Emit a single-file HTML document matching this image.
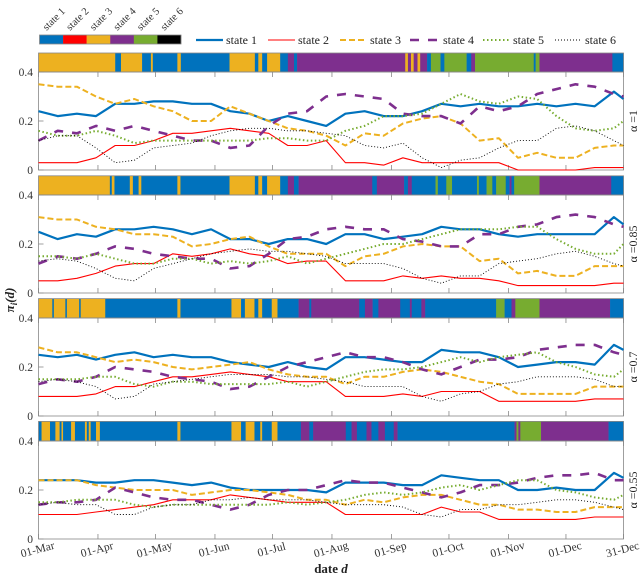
<!DOCTYPE html>
<html><head><meta charset="utf-8"><style>
html,body{margin:0;padding:0;background:#fff;}
svg{display:block;font-family:"Liberation Serif",serif;}
</style></head><body>
<svg id="chart" width="640" height="578" viewBox="0 0 640 578" xmlns="http://www.w3.org/2000/svg"></svg>
<script>
const days=[0,10,20,30,40,50,60,70,80,90,100,110,120,130,140,150,160,170,180,190,200,210,220,230,240,250,260,270,280,290,300,305];
const alphaLabels=["α =1","α =0.85","α =0.7","α =0.55"];
const monthTicks=[0,31,61,92,122,153,184,214,245,275,305];
const monthLabels=["01-Mar","01-Apr","01-May","01-Jun","01-Jul","01-Aug","01-Sep","01-Oct","01-Nov","01-Dec","31-Dec"];
const yTicks=[0,0.2,0.4];
const stateNames=["state 1","state 2","state 3","state 4","state 5","state 6"];
// panel 1 (alpha=1)
const p1s1=[.24,.22,.23,.22,.27,.27,.28,.28,.27,.27,.24,.23,.20,.22,.20,.18,.23,.24,.22,.22,.24,.27,.26,.27,.26,.26,.27,.26,.27,.26,.32,.29];
const p1s2=[.03,.03,.03,.05,.10,.10,.12,.15,.15,.16,.17,.16,.15,.10,.10,.12,.03,.03,.02,.05,.03,.03,.03,.03,.03,.00,.00,.00,.00,.01,.01,.01];
const p1s3=[.35,.34,.34,.30,.27,.29,.26,.24,.20,.20,.26,.23,.20,.17,.16,.14,.10,.15,.14,.19,.21,.22,.19,.12,.13,.05,.07,.05,.05,.09,.10,.10];
const p1s4=[.12,.16,.15,.18,.16,.18,.16,.14,.12,.12,.09,.10,.18,.23,.24,.30,.31,.30,.29,.23,.22,.22,.19,.26,.24,.26,.31,.33,.35,.34,.31,.30];
const p1s5=[.16,.14,.14,.16,.14,.11,.12,.12,.12,.12,.12,.12,.13,.13,.12,.12,.16,.18,.22,.22,.23,.27,.31,.28,.27,.30,.29,.22,.17,.16,.17,.20];
const p1s6=[.12,.14,.14,.09,.03,.04,.09,.10,.11,.14,.16,.17,.17,.16,.16,.15,.14,.10,.09,.11,.05,.01,.04,.05,.09,.12,.12,.17,.18,.16,.12,.10];
// panel 2 (alpha=0.85)
const p2s1=[.25,.22,.24,.23,.26,.26,.27,.26,.24,.26,.22,.22,.20,.22,.22,.20,.24,.24,.22,.23,.24,.27,.26,.26,.24,.23,.24,.24,.24,.24,.31,.28];
const p2s2=[.05,.05,.06,.08,.11,.12,.12,.16,.15,.16,.18,.16,.15,.12,.13,.13,.05,.05,.05,.07,.06,.07,.06,.06,.05,.03,.03,.03,.03,.03,.04,.04];
const p2s3=[.31,.30,.30,.27,.26,.24,.24,.23,.19,.20,.22,.23,.19,.16,.16,.16,.11,.15,.16,.19,.20,.19,.19,.13,.14,.08,.09,.07,.07,.11,.11,.11];
const p2s4=[.12,.15,.14,.16,.19,.18,.16,.15,.14,.14,.10,.11,.16,.22,.23,.26,.27,.26,.26,.22,.21,.19,.19,.24,.24,.27,.28,.31,.32,.31,.28,.27];
const p2s5=[.15,.15,.14,.16,.14,.12,.12,.14,.14,.12,.13,.12,.13,.15,.12,.14,.16,.18,.20,.20,.22,.24,.26,.26,.26,.27,.27,.22,.18,.16,.16,.20];
const p2s6=[.13,.14,.13,.10,.06,.05,.10,.12,.14,.16,.17,.18,.17,.17,.16,.15,.12,.12,.12,.10,.06,.04,.07,.07,.12,.13,.14,.16,.17,.15,.12,.11];
// panel 3 (alpha=0.7)
const p3s1=[.25,.24,.25,.23,.25,.26,.24,.25,.24,.24,.22,.21,.20,.22,.20,.19,.24,.24,.23,.22,.22,.27,.26,.26,.24,.20,.21,.22,.22,.21,.29,.27];
const p3s2=[.08,.08,.08,.09,.12,.12,.14,.16,.16,.17,.18,.17,.16,.14,.14,.14,.08,.08,.08,.09,.08,.10,.10,.10,.06,.06,.06,.06,.06,.07,.07,.07];
const p3s3=[.28,.26,.26,.24,.22,.23,.22,.20,.19,.20,.21,.22,.19,.17,.16,.16,.13,.16,.16,.18,.19,.18,.16,.14,.13,.09,.09,.09,.09,.12,.12,.12];
const p3s4=[.13,.15,.14,.16,.20,.19,.18,.16,.15,.14,.11,.12,.16,.20,.22,.24,.26,.24,.24,.22,.19,.17,.20,.23,.23,.24,.27,.28,.29,.29,.26,.25];
const p3s5=[.15,.15,.15,.16,.16,.13,.12,.14,.14,.13,.13,.13,.13,.14,.12,.14,.16,.18,.19,.19,.20,.22,.24,.22,.24,.25,.26,.22,.20,.17,.16,.19];
const p3s6=[.14,.15,.14,.12,.07,.08,.13,.14,.15,.16,.17,.17,.17,.16,.16,.15,.14,.12,.12,.12,.08,.06,.09,.10,.13,.14,.16,.16,.16,.15,.12,.12];
// panel 4 (alpha=0.55)
const p4s1=[.24,.24,.24,.23,.23,.24,.24,.23,.22,.23,.21,.20,.20,.20,.20,.19,.23,.23,.23,.22,.22,.26,.25,.24,.24,.20,.20,.21,.20,.20,.27,.25];
const p4s2=[.10,.10,.10,.11,.12,.13,.14,.16,.16,.16,.18,.17,.16,.15,.15,.15,.10,.10,.10,.10,.10,.13,.11,.11,.08,.08,.08,.08,.08,.09,.09,.09];
const p4s3=[.24,.24,.24,.22,.21,.20,.20,.20,.18,.19,.20,.20,.19,.18,.16,.16,.14,.16,.15,.17,.18,.18,.16,.14,.14,.12,.12,.11,.11,.13,.13,.13];
const p4s4=[.14,.15,.15,.16,.21,.19,.17,.16,.16,.14,.12,.14,.18,.20,.20,.22,.24,.23,.23,.21,.19,.17,.19,.22,.22,.23,.25,.26,.26,.27,.24,.24];
const p4s5=[.15,.15,.16,.16,.16,.14,.13,.14,.14,.14,.14,.14,.14,.15,.14,.15,.16,.18,.19,.18,.19,.21,.22,.20,.22,.24,.24,.20,.19,.17,.16,.18];
const p4s6=[.14,.15,.14,.14,.10,.10,.13,.14,.14,.16,.16,.17,.16,.16,.16,.15,.14,.14,.14,.13,.10,.09,.12,.12,.14,.14,.15,.16,.16,.15,.13,.12];
// regime bars: segment start days and state index (1..6)
const bar1Start=[0,40,43,54,58.6,59.6,72.4,74.2,99.6,112.8,114.6,116.6,119.2,126,130,133.2,134.8,191.2,192.6,194.2,195.6,197.6,199,202.6,204.6,209.6,211.6,223.2,225.6,227.6,258.2,259.2,261.2,299.2];
const bar1State=[3,1,3,1,3,1,3,1,3,1,3,1,3,1,4,1,4,3,4,3,4,3,4,1,5,1,5,1,4,5,1,5,4,1];
const bar2Start=[0,37.2,38.2,39.6,47.6,49.2,52.2,53.6,72.4,74,99.6,112.8,114.6,116.6,119.2,126,130,133.2,135.6,174,176.4,190.6,192.6,194.6,207,208.2,212.6,215.6,228.6,229.6,233.6,236.6,238.6,243.6,245.6,246.6,248,261.2,298.6];
const bar2State=[3,1,3,1,3,1,3,1,3,1,3,1,3,1,3,1,4,1,4,1,4,1,4,1,5,1,5,1,5,1,5,1,5,1,4,1,5,4,1];
const bar3Start=[0,7.2,8,14,14.8,21.2,22,34.8,72.4,74,100.6,105.6,107.6,112.6,114.6,116.6,121.6,124.6,135.6,141.2,142.2,167.2,170.2,174.2,177.2,188.6,193.6,194.6,199.6,201.6,238.6,243,246.6,248.6,261.2,298];
const bar3State=[3,1,3,1,3,1,3,1,3,1,3,1,3,1,3,1,3,1,4,1,4,1,4,1,4,1,4,1,4,1,5,1,4,5,4,1];
const bar4Start=[0,1.6,6,8.8,11,12,12.8,17,19,24.2,25.2,26.2,27.2,30,32,72.4,74,100.6,105.6,108,112.6,115.6,116.6,121.6,124.6,136.8,141.2,143.2,160.2,163.2,166,171,173.6,177.2,180.6,185.2,187.2,248.2,249.2,250.2,251.2,262,297.2];
const bar4State=[1,3,1,3,1,3,1,3,1,3,1,3,1,3,1,3,1,3,1,3,1,3,1,3,1,4,1,4,1,4,1,4,1,4,1,4,1,4,5,4,5,4,1];

const colors=["#0072BD","#FF0000","#EDB120","#7E2F8E","#77AC30","#000000"];
const styles=[{w:2.2,d:""},{w:1.1,d:""},{w:2,d:"6,3"},{w:2.6,d:"9,9"},{w:2,d:"1.5,2.5"},{w:0.9,d:"1,2"}];
const NS="http://www.w3.org/2000/svg";
const svg=document.getElementById("chart");
function mk(tag,attrs,parent){const e=document.createElementNS(NS,tag);for(const k in attrs)e.setAttribute(k,attrs[k]);(parent||svg).appendChild(e);return e;}
const X0=38.5,X1=623.5,D=305;
const xs=d=>X0+(X1-X0)*d/D;
const panels=[[p1s1,p1s2,p1s3,p1s4,p1s5,p1s6],[p2s1,p2s2,p2s3,p2s4,p2s5,p2s6],[p3s1,p3s2,p3s3,p3s4,p3s5,p3s6],[p4s1,p4s2,p4s3,p4s4,p4s5,p4s6]];
const bars=[[bar1Start,bar1State],[bar2Start,bar2State],[bar3Start,bar3State],[bar4Start,bar4State]];
for(let p=0;p<4;p++){
  const barTop=53+122.8*p, base=170+123*p, top=base-98;
  const ys=v=>base-v*245;
  const g=mk("g",{});
  
  
  const [st,ss]=bars[p];
  for(let i=0;i<st.length;i++){
    const a=xs(st[i]),b=xs(i+1<st.length?st[i+1]:D);
    const r=mk("rect",{x:a,y:barTop,width:b-a+0.3,height:top-barTop,fill:colors[ss[i]-1]},g);
    
    
  }
  const bb=mk("rect",{x:X0,y:barTop,width:X1-X0,height:top-barTop,fill:"none",stroke:"#888","stroke-width":0.8},g);
  
  
  const ax=mk("rect",{x:X0,y:top,width:X1-X0,height:base-top,fill:"none",stroke:"#888","stroke-width":0.8},g);
  
  
  for(const m of monthTicks){
    mk("line",{x1:xs(m),x2:xs(m),y1:base,y2:base-5,stroke:"#888","stroke-width":0.8},g);
    mk("line",{x1:xs(m),x2:xs(m),y1:top,y2:top+5,stroke:"#888","stroke-width":0.8},g);
  }
  for(const t of yTicks){
    mk("line",{x1:X0,x2:X0+5,y1:ys(t),y2:ys(t),stroke:"#888","stroke-width":0.8},g);
    const tx=mk("text",{x:33,y:ys(t)+4,"text-anchor":"end","font-size":11.5,fill:"#333"},g);
    tx.textContent=t===0?"0":String(t);
    
    
  }
  panels[p].forEach((arr,k)=>{
    const pts=arr.map((v,i)=>xs(days[i]).toFixed(1)+","+ys(v).toFixed(1)).join(" ");
    const pl=mk("polyline",{points:pts,fill:"none",stroke:colors[k],"stroke-width":styles[k].w,"stroke-dasharray":styles[k].d,"stroke-linejoin":"round"},g);
    
    
  });
  const al=mk("text",{x:0,y:0,transform:`translate(637,${(top+base)/2}) rotate(-90)`,"text-anchor":"middle","font-size":12,fill:"#222"},g);
  al.textContent=alphaLabels[p];
  
  
}
monthTicks.forEach((m,i)=>{
  const t=mk("text",{x:0,y:0,transform:`translate(${xs(m)},553) rotate(-15)`,"text-anchor":"middle","font-size":11.5,fill:"#333"});
  t.textContent=monthLabels[i];
  
  
});
const xl=mk("text",{x:331,y:573,"text-anchor":"middle","font-size":13,"font-weight":"bold",fill:"#222"});
xl.innerHTML='date <tspan font-style="italic">d</tspan>';


const yl=mk("text",{x:0,y:0,transform:"translate(14,300) rotate(-90)","text-anchor":"middle","font-size":13,"font-weight":"bold","font-style":"italic",fill:"#222"});
yl.innerHTML='π<tspan font-size="9" dy="3">i</tspan><tspan dy="-3">(d)</tspan>';


const cbw=(181-39.5)/6;
for(let i=0;i<6;i++){
  const r=mk("rect",{x:39.5+i*cbw,y:35,width:cbw+0.2,height:9,fill:colors[i]});
  
  
  const t=mk("text",{x:0,y:0,transform:`translate(${39.5+(i+0.3)*cbw},31) rotate(-45)`,"font-size":10.5,fill:"#333"});
  t.textContent=stateNames[i];
  
  
}
const cbf=mk("rect",{x:39.5,y:35,width:141.5,height:9,fill:"none",stroke:"#888","stroke-width":0.8});


const legX=[196,268,340,410,483,555];
legX.forEach((x,i)=>{
  const g=mk("g",{});
  
  
  mk("line",{x1:x,x2:x+27,y1:40,y2:40,stroke:colors[i],"stroke-width":styles[i].w,"stroke-dasharray":styles[i].d},g);
  const t=mk("text",{x:x+(i===3?33:30),y:44,"font-size":12,fill:"#222"},g);
  t.textContent=stateNames[i];
});
</script>
</body></html>
